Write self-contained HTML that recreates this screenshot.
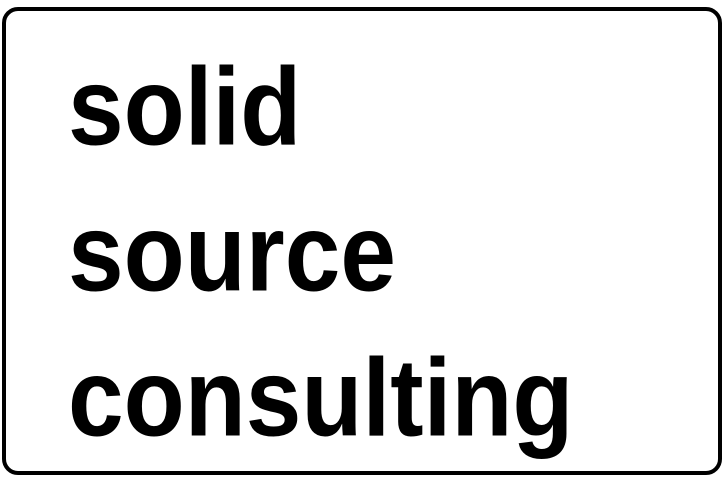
<!DOCTYPE html>
<html><head><style>
html,body{margin:0;padding:0;background:#fff;}
body{width:724px;height:481px;position:relative;overflow:hidden;}
.box{position:absolute;left:2px;top:7px;width:712px;height:460px;border:4px solid #000;border-radius:16px;}
.t{position:absolute;left:68px;font-family:"Liberation Sans",sans-serif;font-weight:bold;font-size:100px;line-height:100px;transform:scaleY(1.1);transform-origin:0 0;white-space:nowrap;color:#000;}
</style></head><body>
<div class="box"></div>
<div class="t" style="top:52px">solid</div>
<div class="t" style="top:198px">source</div>
<div class="t" style="top:343px">consulting</div>
</body></html>
